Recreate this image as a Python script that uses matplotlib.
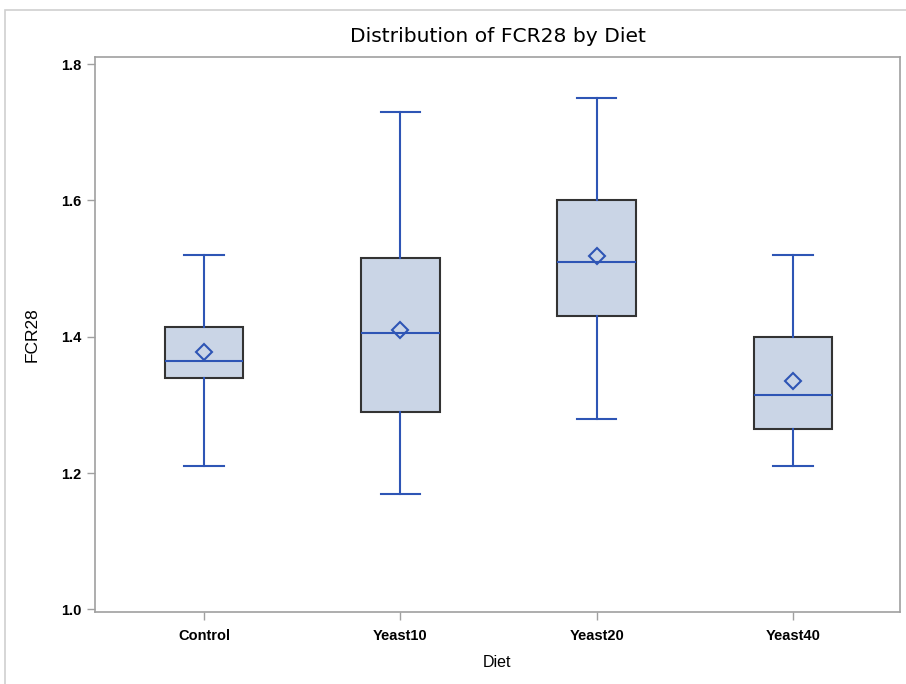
import matplotlib
matplotlib.use("Agg")
import matplotlib.pyplot as plt
from matplotlib.patches import Rectangle

categories = ["Control", "Yeast10", "Yeast20", "Yeast40"]
whisker_low = [1.21, 1.17, 1.28, 1.21]
q1 = [1.34, 1.29, 1.43, 1.265]
median = [1.365, 1.405, 1.51, 1.315]
q3 = [1.415, 1.515, 1.60, 1.40]
whisker_high = [1.52, 1.73, 1.75, 1.52]
mean = [1.377, 1.41, 1.518, 1.335]
y_ticks = [1.0, 1.2, 1.4, 1.6, 1.8]

plt.rcParams['font.family'] = ['Liberation Sans', 'DejaVu Sans']

fig = plt.figure(figsize=(9.06, 6.84), dpi=100)
ax = fig.add_axes([95/906, 1-612/684, (900-95)/906, (612-57)/684])

stats = []
for i, c in enumerate(categories):
    stats.append(dict(label=c, whislo=whisker_low[i], q1=q1[i], med=median[i],
                      q3=q3[i], whishi=whisker_high[i], mean=mean[i], fliers=[]))

blue = '#2E55B5'
ax.bxp(stats, positions=range(len(categories)), widths=0.4, patch_artist=True,
       showmeans=True, showfliers=False,
       boxprops=dict(facecolor='#CAD5E6', edgecolor='#333333', linewidth=1.5),
       medianprops=dict(color=blue, linewidth=1.5),
       whiskerprops=dict(color=blue, linewidth=1.5),
       capprops=dict(color=blue, linewidth=1.5),
       meanprops=dict(marker='D', markerfacecolor='none', markeredgecolor=blue,
                      markersize=8, markeredgewidth=1.5),
       capwidths=0.2)

ax.set_xlim(-0.555, 3.545)
ax.set_ylim(0.9963, 1.8103)
ax.set_yticks(y_ticks)
ax.set_yticklabels([f"{v:.1f}" for v in y_ticks])
ax.set_xticks(range(len(categories)))
ax.set_xticklabels(categories)
for s in ax.spines.values():
    s.set_color('#A0A0A0')
    s.set_linewidth(1.2)
ax.tick_params(colors='#A0A0A0', labelcolor='black', length=6, width=1, labelsize=10.5)
ax.tick_params(axis='x', pad=6)
for lab in ax.get_xticklabels() + ax.get_yticklabels():
    lab.set_fontweight('bold')

ax.set_xlabel("Diet", fontsize=11.5, labelpad=9)
ax.set_ylabel("FCR28", fontsize=12.5, labelpad=16)
fig.text(0.5 * (95 + 900) / 906, 1 - 37/684, "Distribution of FCR28 by Diet",
         fontsize=14.6, family=['DejaVu Sans'], ha='center', va='center')

# outer frame
fig.add_artist(Rectangle((5/906, -0.1), 1.2, 1 - 10/684 + 0.1,
                         transform=fig.transFigure, fill=False,
                         edgecolor='#D0D0D0', linewidth=1.2))

fig.savefig("out.png", dpi=100)
